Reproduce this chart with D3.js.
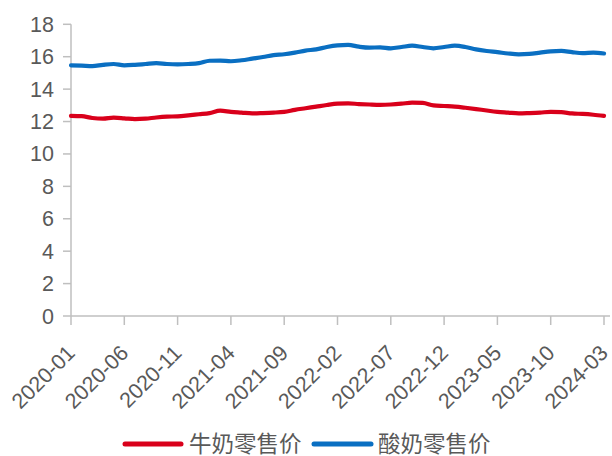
<!DOCTYPE html>
<html>
<head>
<meta charset="utf-8">
<script src="https://cdn.jsdelivr.net/npm/d3@7"></script>
<style>
  html, body { margin: 0; padding: 0; background: #fff; }
  svg { display: block; }
  text { font-family: "Liberation Sans", Arial, "Noto Sans CJK SC", sans-serif; fill: #595959; }
</style>
</head>
<body>
<svg id="chart" width="612" height="456"></svg>
<script>
// Months from 2020-01 to 2024-03 (index 0..50)
const startYear = 2020;
const monthCount = 51;
const tickMonths = [0, 5, 10, 15, 20, 25, 30, 35, 40, 45, 50];
const yTicks = [0, 2, 4, 6, 8, 10, 12, 14, 16, 18];
const seriesNames = ["牛奶零售价", "酸奶零售价"];
const seriesColors = ["#d9001b", "#0a6fc2"];

const milkPrice = [
  12.35, 12.33, 12.22, 12.18, 12.24, 12.20, 12.15, 12.18, 12.25, 12.30,
  12.32, 12.38, 12.45, 12.52, 12.67, 12.60, 12.55, 12.50, 12.52, 12.55,
  12.60, 12.72, 12.82, 12.92, 13.02, 13.10, 13.12, 13.08, 13.05, 13.03,
  13.05, 13.10, 13.17, 13.15, 13.00, 12.96, 12.92, 12.85, 12.77, 12.68,
  12.60, 12.55, 12.50, 12.52, 12.55, 12.60, 12.58, 12.50, 12.47, 12.42,
  12.35
];
const yogurtPrice = [
  15.47, 15.45, 15.42, 15.50, 15.55, 15.47, 15.50, 15.55, 15.60, 15.55,
  15.53, 15.55, 15.60, 15.75, 15.76, 15.72, 15.78, 15.88, 15.98, 16.10,
  16.15, 16.25, 16.38, 16.45, 16.60, 16.70, 16.73, 16.62, 16.56, 16.58,
  16.52, 16.60, 16.68, 16.60, 16.52, 16.60, 16.68, 16.60, 16.45, 16.35,
  16.28, 16.20, 16.15, 16.17, 16.25, 16.33, 16.36, 16.28, 16.22, 16.25,
  16.20
];

function monthLabel(i) {
  const y = startYear + Math.floor(i / 12);
  const m = (i % 12) + 1;
  return y + "-" + (m < 10 ? "0" + m : m);
}

const svg = d3.select("#chart");
const x = d3.scaleLinear().domain([0, 50]).range([71, 604]);
const y = d3.scaleLinear().domain([0, 18]).range([316, 24.3]);
const axisColor = "#bfbfbf";

// Y axis
const gy = svg.append("g");
gy.append("line").attr("x1", 71).attr("x2", 71).attr("y1", y(18)).attr("y2", y(0))
  .attr("stroke", axisColor).attr("stroke-width", 1.5);
yTicks.forEach(t => {
  gy.append("line").attr("x1", 63).attr("x2", 71).attr("y1", y(t)).attr("y2", y(t))
    .attr("stroke", axisColor).attr("stroke-width", 1.5);
  gy.append("text").attr("x", 54).attr("y", y(t)).attr("dy", "0.35em")
    .attr("text-anchor", "end").attr("font-size", "21.5px").text(t);
});

// X axis
const gx = svg.append("g");
gx.append("line").attr("x1", 71).attr("x2", 610).attr("y1", y(0)).attr("y2", y(0))
  .attr("stroke", axisColor).attr("stroke-width", 1.5);
tickMonths.forEach(t => {
  gx.append("line").attr("x1", x(t)).attr("x2", x(t)).attr("y1", y(0)).attr("y2", y(0) + 9)
    .attr("stroke", axisColor).attr("stroke-width", 1.5);
  gx.append("text")
    .attr("transform", `translate(${x(t)},349) rotate(-45)`)
    .attr("dy", "0.35em").attr("text-anchor", "end").attr("font-size", "21.5px")
    .text(monthLabel(t));
});

// Lines
const line = d3.line().x((d, i) => x(i)).y(d => y(d)).curve(d3.curveMonotoneX);
[milkPrice, yogurtPrice].forEach((s, k) => {
  svg.append("path").datum(s).attr("d", line).attr("fill", "none")
    .attr("stroke", seriesColors[k]).attr("stroke-width", 4.2)
    .attr("stroke-linejoin", "round").attr("stroke-linecap", "round");
});

// Legend
const legendItems = [
  { x1: 125, x2: 181, tx: 189 },
  { x1: 314, x2: 371, tx: 378 }
];
legendItems.forEach((it, k) => {
  svg.append("line").attr("x1", it.x1).attr("x2", it.x2).attr("y1", 444).attr("y2", 444)
    .attr("stroke", seriesColors[k]).attr("stroke-width", 5).attr("stroke-linecap", "round");
  svg.append("text").attr("x", it.tx).attr("y", 444).attr("dy", "0.36em")
    .attr("font-size", "22.5px").text(seriesNames[k]);
});
</script>
</body>
</html>
